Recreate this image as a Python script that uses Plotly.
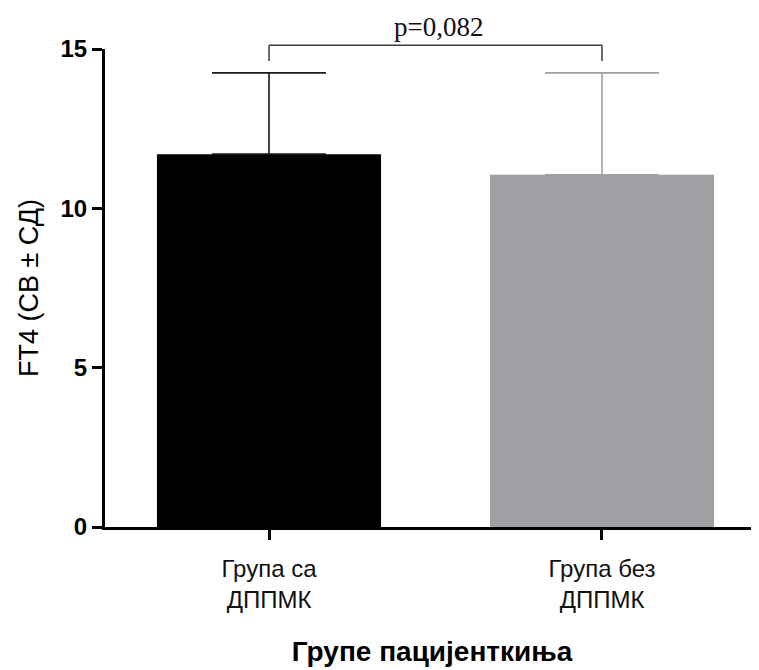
import plotly.graph_objects as go

# Data
categories = ["Група са<br>ДППМК", "Група без<br>ДППМК"]
means = [11.7, 11.05]
sds = [2.55, 3.2]
bar_colors = ["#000000", "#a09fa4"]
err_colors = ["#1a1a1a", "#a09fa4"]
bracket_y = 15.12
bracket_drop = 14.62
p_text = "p=0,082"
y_tick_vals = [0, 5, 10, 15]

fig = go.Figure()
for i in range(2):
    fig.add_trace(go.Bar(
        x=[categories[i]], y=[means[i]],
        marker=dict(color=bar_colors[i], line=dict(width=0)),
        width=0.673,
        error_y=dict(type="data", array=[sds[i]], arrayminus=[0], symmetric=False,
                     color=err_colors[i], thickness=1.6, width=57),
        showlegend=False,
    ))

ymax = 15
# significance bracket
for xa, xb, ya, yb in [(0, 0, bracket_drop, bracket_y), (0, 1, bracket_y, bracket_y), (1, 1, bracket_y, bracket_drop)]:
    fig.add_shape(type="line", xref="x", yref="paper",
                  x0=xa, x1=xb, y0=ya / ymax, y1=yb / ymax,
                  line=dict(color="#3c3c3c", width=1.5))
fig.add_annotation(x=0.51, y=bracket_y / ymax, xref="x", yref="paper", text=p_text,
                   showarrow=False, yanchor="bottom", yshift=1,
                   font=dict(family="Liberation Serif", size=27, color="#111"))

fig.update_layout(
    width=751, height=662,
    margin=dict(l=97, r=0, t=41, b=143),
    plot_bgcolor="white", paper_bgcolor="white",
    barmode="overlay",
    font=dict(family="Liberation Sans", color="black"),
    xaxis=dict(
        range=[-0.4925, 1.4715],
        showline=True, linecolor="black", linewidth=3,
        ticks="outside", ticklen=10, tickwidth=2.5, tickcolor="black",
        tickfont=dict(size=24, color="#111"),
        ticklabelstandoff=8,
        title=dict(text="<b>Групе пацијенткиња</b>", font=dict(size=28), standoff=30),
        showgrid=False, zeroline=False, automargin=False,
    ),
    yaxis=dict(
        range=[0, ymax],
        tickvals=y_tick_vals,
        showline=True, linecolor="black", linewidth=3,
        ticks="outside", ticklen=10, tickwidth=2.5, tickcolor="black",
        tickfont=dict(size=24, color="black", weight="bold"),
        title=dict(text="FT4 (СВ ± СД)", font=dict(size=27), standoff=15),
        showgrid=False, zeroline=False, automargin=False,
    ),
)

fig.write_html("out.html")
